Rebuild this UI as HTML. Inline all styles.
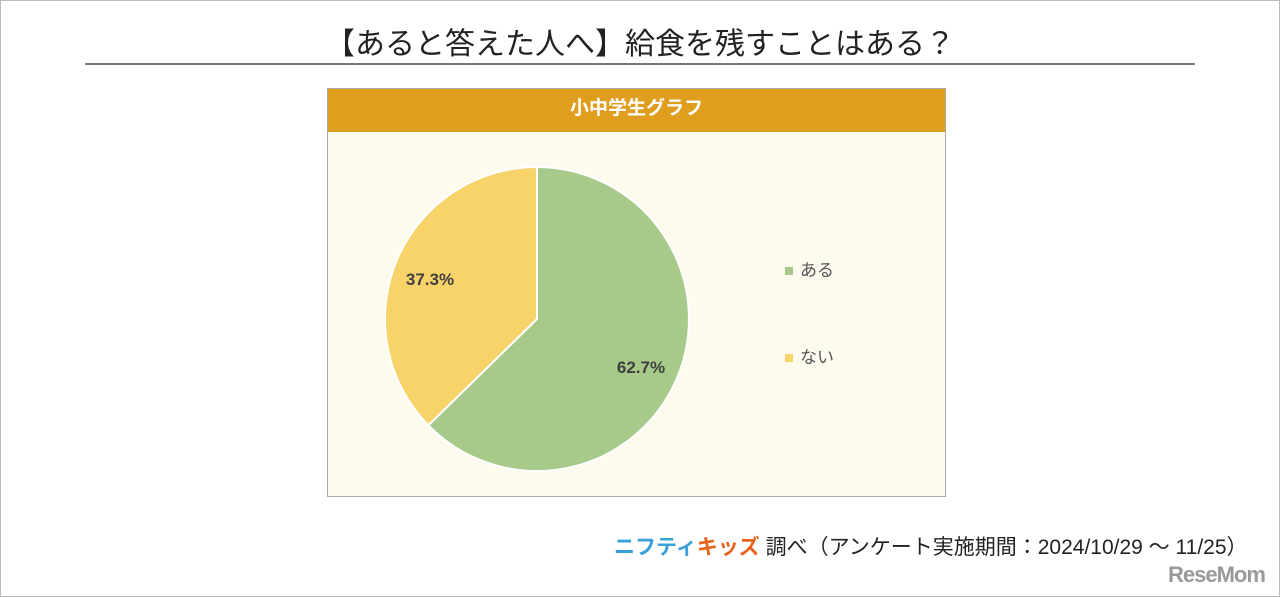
<!DOCTYPE html>
<html><head><meta charset="utf-8"><style>
body{margin:0;width:1280px;height:597px;background:#fff;position:relative;overflow:hidden;font-family:"Liberation Sans","Noto Sans CJK JP",sans-serif}
.frame{position:absolute;left:0;top:0;width:1278px;height:595px;border:1px solid #bbb}
.t{position:absolute;left:0;width:1280px;top:19px;text-align:center;font-size:30px;color:#222}
.hr{position:absolute;left:85px;top:63px;width:1110px;height:2px;background:#777}
.box{position:absolute;left:327px;top:88px;width:617px;height:407px;border:1px solid #aaa;background:#fdfbee}
.hd{height:43px;background:#e09e1f;color:#fff;font-weight:bold;font-size:19px;text-align:center;line-height:40px}
.foot{position:absolute;left:614px;top:531px;font-size:21px;color:#222;white-space:nowrap}
.logo{position:absolute;left:1168px;top:562px;font-size:22px;font-weight:bold;color:#999;letter-spacing:-1px}
</style></head><body>
<div class="frame"></div>
<div class="t">【あると答えた人へ】給食を残すことはある？</div>
<div class="hr"></div>
<div class="box"><div class="hd">小中学生グラフ</div></div>
<svg style="position:absolute;left:0;top:0" width="1280" height="597">
<path d="M537,319 L537,167 A152,152 0 1,1 428.3,425.3 Z" fill="#a7ca8b" stroke="#fff" stroke-width="2"/>
<path d="M537,319 L428.3,425.3 A152,152 0 0,1 537,167 Z" fill="#f7d36a" stroke="#fff" stroke-width="2"/>
<text x="641" y="373" font-size="17" font-weight="bold" fill="#404040" text-anchor="middle" font-family="Liberation Sans,sans-serif">62.7%</text>
<text x="430" y="285" font-size="17" font-weight="bold" fill="#404040" text-anchor="middle" font-family="Liberation Sans,sans-serif">37.3%</text>
<rect x="785" y="267" width="8" height="8" fill="#a7ca8b"/>
<rect x="785" y="354" width="8" height="8" fill="#f7d36a"/>
<text x="800" y="276" font-size="17" fill="#555" font-family="Noto Sans CJK JP,sans-serif">ある</text>
<text x="800" y="363" font-size="17" fill="#555" font-family="Noto Sans CJK JP,sans-serif">ない</text>
</svg>
<div class="foot"><span style="color:#3aa0d8;font-weight:bold">ニフティ</span><span style="color:#e8641e;font-weight:bold">キッズ</span> 調べ（アンケート実施期間：2024/10/29 ～ 11/25）</div>
<div class="logo">ReseMom</div>
</body></html>
